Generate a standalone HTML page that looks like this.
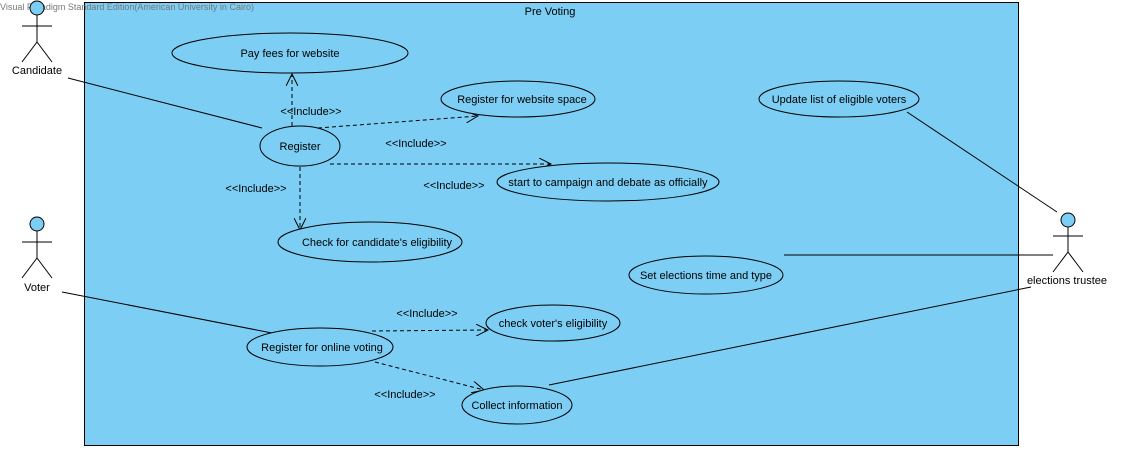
<!DOCTYPE html>
<html><head><meta charset="utf-8"><style>
html,body{margin:0;padding:0;background:#fff;}
svg{display:block;}
text{font-family:"Liberation Sans",Arial,sans-serif;font-size:11px;fill:#000;}
</style></head><body>
<svg width="1126" height="451" viewBox="0 0 1126 451" xmlns="http://www.w3.org/2000/svg">
<defs>
<marker id="a" markerWidth="14" markerHeight="12" refX="12" refY="6" orient="auto" markerUnits="userSpaceOnUse">
<path d="M0,0 L12,6 L0,12" fill="none" stroke="#000" stroke-width="1"/>
</marker>
</defs>
<rect x="84.5" y="2.5" width="934" height="443" fill="#7ccef4" stroke="#000" stroke-width="1"/>
<text x="550" y="15" text-anchor="middle">Pre Voting</text>
<text x="0" y="10" style="font-size:9px;fill:#777">Visual Paradigm Standard Edition(American University in Cairo)</text>

<g stroke="#000" stroke-width="1" fill="none">
<line x1="68" y1="78" x2="262" y2="128"/>
<line x1="62" y1="292" x2="272" y2="333"/>
<line x1="907" y1="112" x2="1057" y2="212"/>
<line x1="784" y1="255" x2="1053" y2="255"/>
<line x1="549" y1="385" x2="1031" y2="287"/>
</g>
<g stroke="#000" stroke-width="1" fill="none" stroke-dasharray="4,3" marker-end="url(#a)">
<line x1="292" y1="126" x2="292" y2="74"/>
<line x1="318" y1="128" x2="478" y2="116"/>
<line x1="330" y1="164" x2="551" y2="164"/>
<line x1="300" y1="167" x2="300" y2="230"/>
<line x1="372" y1="331" x2="488" y2="330"/>
<line x1="375" y1="362" x2="484" y2="390"/>
</g>

<g fill="#7ccef4" stroke="#000" stroke-width="1">
<ellipse cx="290" cy="53" rx="118" ry="20"/>
<ellipse cx="300" cy="146" rx="40" ry="20"/>
<ellipse cx="518" cy="99" rx="77" ry="18"/>
<ellipse cx="608" cy="182" rx="111" ry="19"/>
<ellipse cx="370" cy="242" rx="92" ry="20"/>
<ellipse cx="839" cy="99" rx="80" ry="18"/>
<ellipse cx="706" cy="275" rx="77" ry="19"/>
<ellipse cx="320" cy="347" rx="73" ry="19"/>
<ellipse cx="553" cy="323" rx="67" ry="18"/>
<ellipse cx="517" cy="405" rx="55" ry="19"/>
</g>
<g text-anchor="middle">
<text x="290" y="57">Pay fees for website</text>
<text x="300" y="150">Register</text>
<text x="522" y="103">Register for website space</text>
<text x="608" y="186">start to campaign and debate as officially</text>
<text x="377" y="246">Check for candidate's eligibility</text>
<text x="839" y="103">Update list of eligible voters</text>
<text x="706" y="279">Set elections time and type</text>
<text x="322" y="351">Register for online voting</text>
<text x="553" y="327">check voter's eligibility</text>
<text x="517" y="409">Collect information</text>
<text x="311" y="115">&lt;&lt;Include&gt;&gt;</text>
<text x="416" y="147">&lt;&lt;Include&gt;&gt;</text>
<text x="256" y="192">&lt;&lt;Include&gt;&gt;</text>
<text x="454" y="189">&lt;&lt;Include&gt;&gt;</text>
<text x="427" y="317">&lt;&lt;Include&gt;&gt;</text>
<text x="405" y="398">&lt;&lt;Include&gt;&gt;</text>
</g>

<g stroke="#000" stroke-width="1" fill="none">
<circle cx="37" cy="8" r="7" fill="#7ccef4"/>
<line x1="37" y1="15" x2="37" y2="42"/><line x1="22" y1="26" x2="52" y2="26"/>
<line x1="37" y1="42" x2="22" y2="62"/><line x1="37" y1="42" x2="52" y2="62"/>
<circle cx="37" cy="224" r="7" fill="#7ccef4"/>
<line x1="37" y1="231" x2="37" y2="258"/><line x1="22" y1="242" x2="52" y2="242"/>
<line x1="37" y1="258" x2="22" y2="278"/><line x1="37" y1="258" x2="52" y2="278"/>
<circle cx="1068" cy="220" r="7" fill="#7ccef4"/>
<line x1="1068" y1="227" x2="1068" y2="252"/><line x1="1053" y1="236" x2="1083" y2="236"/>
<line x1="1068" y1="252" x2="1053" y2="272"/><line x1="1068" y1="252" x2="1083" y2="272"/>
</g>
<g text-anchor="middle">
<text x="37" y="74">Candidate</text>
<text x="37" y="291">Voter</text>
<text x="1067" y="284">elections trustee</text>
</g>
</svg>
</body></html>
